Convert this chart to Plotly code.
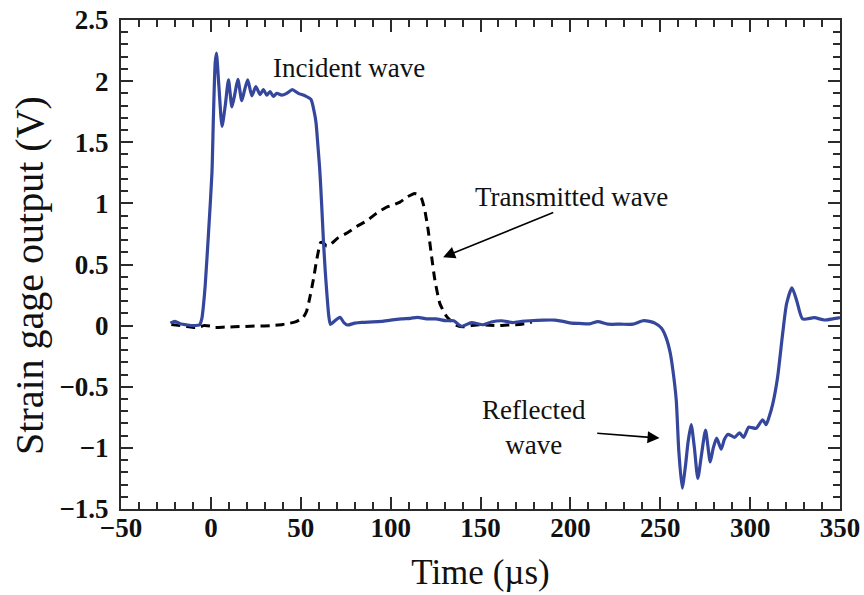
import plotly.graph_objects as go

# ---- data ----
incident_t = [-22.5, -20, -17, -13, -9.7, -6.3, -5, -4.1, -3.2, -1.3, 0.6, 1.4, 2.4, 3.1, 4.5, 6.2, 8, 9.8,
              11.7, 13.4, 15, 17.2, 18.8, 20.5, 22.8, 25, 27.4, 29.2, 31.1, 32.9, 34.8, 36.7, 39.4, 42.2,
              45.3, 48.7, 52.4, 55.7, 57.6, 58.5, 59.5, 60.6, 61.6, 62.6, 63.6, 64.6, 65.6, 66.5, 69, 71.8,
              74, 76, 80, 84, 90, 95, 100, 106, 111, 115, 120, 125, 131, 135, 139.4, 145, 151.4, 156, 161.7,
              168, 173, 177.4, 185, 191.5, 196, 200.6, 205, 210.7, 215.3, 220.9, 228, 234.8, 240.3, 244,
              247, 250.6, 253.3, 255.5, 257, 258.9, 260.3, 262.2, 264, 265.5, 267.2, 269, 270.9, 273,
              275.2, 277.8, 279.5, 281.4, 283.9, 285.7, 287.6, 289.5, 291.3, 294.1, 296.3, 299.2, 301,
              303.3, 307, 308.9, 310.5, 312.6, 315.3, 318.1, 320.3, 323.3, 326, 329.2, 335.7, 341.3, 346, 350]
incident_v = [0.02, 0.035, 0.015, 0.005, 0.0, 0.007, 0.06, 0.17, 0.32, 0.76, 1.25, 1.7, 2.15, 2.23, 1.95,
              1.63, 1.8, 2.01, 1.79, 1.9, 2.015, 1.84, 1.93, 2.01, 1.88, 1.955, 1.89, 1.93, 1.885, 1.915,
              1.875, 1.9, 1.885, 1.9, 1.93, 1.9, 1.88, 1.85, 1.74, 1.66, 1.48, 1.27, 1.0, 0.7, 0.45, 0.25,
              0.08, 0.01, 0.04, 0.068, 0.025, 0.005, 0.02, 0.027, 0.03, 0.035, 0.045, 0.055, 0.06, 0.068,
              0.055, 0.055, 0.04, 0.04, -0.005, 0.025, 0.007, 0.03, 0.04, 0.025, 0.035, 0.04, 0.045,
              0.045, 0.035, 0.02, 0.018, 0.015, 0.033, 0.012, 0.012, 0.012, 0.04, 0.035, 0.02, -0.02,
              -0.1, -0.22, -0.36, -0.61, -1.02, -1.33, -1.15, -0.95, -0.81, -1.0, -1.25, -1.05, -0.855,
              -1.115, -1.0, -0.92, -1.01, -0.93, -0.89, -0.9, -0.915, -0.877, -0.915, -0.83, -0.835,
              -0.84, -0.77, -0.81, -0.75, -0.64, -0.42, -0.065, 0.18, 0.31, 0.2, 0.055, 0.065, 0.046,
              0.055, 0.065]

transmitted_t = [-22, -17, -12, -9.7, -6, -4.1, 0, 1.5, 8, 18, 26, 33, 40, 44, 47, 49.6, 51.5, 53.3, 55.2,
                 57, 58.9, 61.1, 62.5, 64.4, 67, 70.9, 76, 81.1, 87, 92.2, 97.8, 101, 105.2, 108.9, 111.5,
                 113.5, 115.5, 117.2, 119, 120.9, 122.8, 124.6, 127.4, 131.1, 134.8, 137, 140.3, 145,
                 149.6, 155, 160.7, 165, 169, 173, 176.4, 178.5]
transmitted_v = [0.01, 0.0, -0.01, -0.015, -0.01, 0.0, -0.005, -0.015, -0.012, -0.007, -0.003, 0.0, 0.01,
                 0.02, 0.03, 0.05, 0.07, 0.12, 0.24, 0.375, 0.54, 0.68, 0.68, 0.65, 0.67, 0.72, 0.76, 0.81,
                 0.86, 0.92, 0.97, 0.985, 1.01, 1.05, 1.07, 1.08, 1.07, 1.04, 0.945, 0.78, 0.565, 0.375,
                 0.18, 0.075, 0.02, 0.0, -0.01, 0.0, 0.007, 0.003, 0.0, 0.005, 0.007, 0.012, 0.02, 0.03]

x_tick_vals = [-50, 0, 50, 100, 150, 200, 250, 300, 350]
x_tick_text = ["\u221250", "0", "50", "100", "150", "200", "250", "300", "350"]
y_tick_vals = [-1.5, -1, -0.5, 0, 0.5, 1, 1.5, 2, 2.5]
y_tick_text = ["\u22121.5", "\u22121", "\u22120.5", "0", "0.5", "1", "1.5", "2", "2.5"]

x_title = "Time (\u00b5s)"
y_title = "Strain gage output (V)"

# annotation texts and positions (data units)
label_incident = ("Incident wave", 77, 2.11)
label_transmitted = ("Transmitted wave", 200.5, 1.05)
label_reflected = ("Reflected<br>wave", 180, -0.83)
arrow_transmitted = (129.2, 0.56, 191.3, 0.93)   # head x, head y, tail x, tail y
arrow_reflected = (249.6, -0.92, 214.1, -0.88)

SERIF = "Liberation Serif"
AX = "#2b2b2b"

fig = go.Figure()
fig.add_trace(go.Scatter(x=transmitted_t, y=transmitted_v, mode="lines",
                         line=dict(color="black", width=3, dash="9px,6px", shape="spline", smoothing=0.5),
                         showlegend=False))
fig.add_trace(go.Scatter(x=incident_t, y=incident_v, mode="lines",
                         line=dict(color="#35479c", width=3.2, shape="spline", smoothing=0.6),
                         showlegend=False))

common = dict(showgrid=False, zeroline=False, showline=True, linewidth=2, linecolor=AX,
              mirror="ticks", ticks="inside", ticklen=12, tickwidth=2, tickcolor=AX,
              tickmode="array", automargin=False, ticklabeloverflow="allow",
              tickfont=dict(family=SERIF, size=27, color="#111", weight="bold"))

fig.update_xaxes(range=[-50, 350], tickvals=x_tick_vals, ticktext=x_tick_text, ticklabelstandoff=-6,
                 minor=dict(dtick=10, tick0=-50, ticks="inside", ticklen=7, tickwidth=1.5, tickcolor=AX),
                 title=dict(text=x_title, font=dict(family=SERIF, size=35, color="#111"), standoff=17),
                 **common)
fig.update_yaxes(range=[-1.5, 2.5], tickvals=y_tick_vals, ticktext=y_tick_text, ticklabelstandoff=5,
                 minor=dict(dtick=0.1, tick0=-1.5, ticks="inside", ticklen=7, tickwidth=1.5, tickcolor=AX),
                 **common)

# y-axis title (placed as rotated text so it sits where the reference has it)
fig.add_annotation(xref="paper", yref="paper", x=-0.127, y=0.478, text=y_title, textangle=-90,
                   showarrow=False, xanchor="center", yanchor="middle",
                   font=dict(family=SERIF, size=40, color="#111"))

for txt, x, y in (label_incident, label_transmitted, label_reflected):
    fig.add_annotation(x=x, y=y, text=txt, showarrow=False,
                       font=dict(family=SERIF, size=27, color="#111"))
for hx, hy, tx, ty in (arrow_transmitted, arrow_reflected):
    fig.add_annotation(x=hx, y=hy, ax=tx, ay=ty, axref="x", ayref="y", text="",
                       showarrow=True, arrowhead=2, arrowsize=1.5, arrowwidth=1.6, arrowcolor="black")

fig.update_layout(width=864, height=595, margin=dict(l=121, r=24, t=20, b=86),
                  plot_bgcolor="white", paper_bgcolor="white")

# remove the default 8px page margin so the figure fills the window exactly
fig.write_html("out.html", config={"displayModeBar": False},
               post_script="document.body.style.margin='0px';")
